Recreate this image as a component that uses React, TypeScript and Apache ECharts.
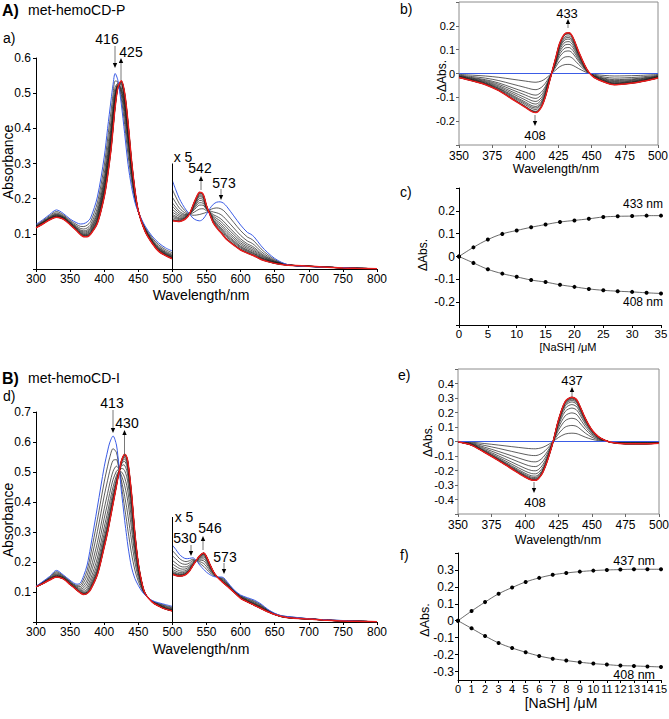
import React, { useEffect, useRef } from 'react';
import * as echarts from 'echarts';

// ---------- Panel a (met-hemoCD-P), Soret region 300-500 nm ----------
const aWlSoret = [300, 310, 320, 330, 340, 350, 360, 365, 370, 375, 380, 390, 400, 405, 410, 413, 416, 420, 425, 430, 435, 440, 445, 450, 460, 470, 480, 490, 500];
const aBlueSoret = [0.127, 0.14, 0.155, 0.168, 0.158, 0.142, 0.131, 0.128, 0.129, 0.134, 0.145, 0.205, 0.318, 0.4, 0.48, 0.525, 0.556, 0.537, 0.47, 0.385, 0.297, 0.235, 0.19, 0.162, 0.122, 0.094, 0.074, 0.06, 0.051];
const aRedSoret = [0.117, 0.128, 0.14, 0.147, 0.142, 0.126, 0.108, 0.098, 0.092, 0.092, 0.099, 0.13, 0.205, 0.265, 0.34, 0.4, 0.46, 0.515, 0.535, 0.5, 0.415, 0.31, 0.225, 0.165, 0.107, 0.074, 0.05, 0.038, 0.029];
// Q-band region 500-800 nm (displayed x 5)
const aWlQ = [500, 505, 510, 515, 520, 525, 530, 535, 540, 545, 550, 555, 560, 565, 570, 575, 580, 590, 600, 610, 615, 620, 630, 640, 650, 660, 670, 680, 700, 720, 750, 770, 800];
const aBlueQ = [0.251, 0.225, 0.201, 0.183, 0.168, 0.157, 0.145, 0.139, 0.137, 0.142, 0.156, 0.172, 0.184, 0.19, 0.191, 0.187, 0.177, 0.151, 0.125, 0.104, 0.099, 0.091, 0.066, 0.046, 0.03, 0.019, 0.012, 0.009, 0.007, 0.005, 0.004, 0.002, 0.001];
const aRedQ = [0.137, 0.136, 0.135, 0.138, 0.144, 0.156, 0.18, 0.203, 0.218, 0.213, 0.18, 0.155, 0.131, 0.117, 0.106, 0.094, 0.083, 0.068, 0.054, 0.045, 0.041, 0.037, 0.027, 0.021, 0.016, 0.013, 0.011, 0.01, 0.008, 0.006, 0.003, 0.002, 0.001];

// ---------- Panel b: difference spectrum (final - initial) ----------
const bWl = [350, 360, 370, 380, 390, 400, 405, 408, 412, 415, 418, 420, 423, 426, 430, 433, 436, 440, 445, 448, 452, 460, 467, 475, 485, 500];
const bRedDiff = [-0.017, -0.031, -0.047, -0.072, -0.107, -0.142, -0.16, -0.164, -0.142, -0.1, -0.037, 0.004, 0.067, 0.129, 0.168, 0.171, 0.15, 0.094, 0.032, 0.004, -0.017, -0.037, -0.047, -0.044, -0.037, -0.019];

// ---------- Panel c: titration ----------
const cConc = [0, 2.5, 5, 7.5, 10, 12.5, 15, 17.5, 20, 22.5, 25, 27.5, 30, 32.5, 35];
const c433 = [0, 0.04, 0.074, 0.099, 0.114, 0.128, 0.14, 0.151, 0.158, 0.165, 0.173, 0.176, 0.177, 0.179, 0.179];
const c408 = [0, -0.028, -0.056, -0.075, -0.089, -0.103, -0.112, -0.124, -0.133, -0.142, -0.148, -0.152, -0.155, -0.159, -0.162];

// ---------- Panel d (met-hemoCD-I) ----------
const dWlSoret = [300, 310, 320, 330, 340, 350, 360, 365, 370, 375, 380, 390, 400, 405, 408, 413, 418, 420, 422, 425, 428, 430, 433, 435, 440, 445, 450, 455, 460, 470, 480, 490, 500];
const dBlueSoret = [0.119, 0.135, 0.152, 0.172, 0.157, 0.139, 0.126, 0.13, 0.155, 0.19, 0.25, 0.383, 0.517, 0.57, 0.597, 0.62, 0.59, 0.555, 0.515, 0.44, 0.38, 0.339, 0.285, 0.25, 0.183, 0.145, 0.122, 0.103, 0.09, 0.072, 0.064, 0.058, 0.052];
const dRedSoret = [0.117, 0.128, 0.14, 0.15, 0.144, 0.125, 0.106, 0.097, 0.092, 0.095, 0.108, 0.158, 0.25, 0.3, 0.335, 0.395, 0.455, 0.48, 0.5, 0.535, 0.553, 0.559, 0.55, 0.53, 0.43, 0.295, 0.195, 0.133, 0.095, 0.067, 0.053, 0.043, 0.037];
const dWlQ = [500, 505, 510, 515, 520, 525, 530, 535, 540, 546, 550, 555, 560, 565, 570, 575, 580, 590, 600, 610, 620, 630, 640, 650, 660, 675, 700, 720, 750, 780, 800];
const dBlueQ = [0.256, 0.242, 0.226, 0.216, 0.211, 0.212, 0.214, 0.205, 0.19, 0.175, 0.166, 0.158, 0.152, 0.15, 0.15, 0.148, 0.135, 0.108, 0.09, 0.081, 0.073, 0.06, 0.042, 0.029, 0.021, 0.017, 0.011, 0.008, 0.005, 0.002, 0.001];
const dRedQ = [0.159, 0.155, 0.153, 0.154, 0.159, 0.17, 0.188, 0.205, 0.221, 0.23, 0.218, 0.192, 0.168, 0.152, 0.14, 0.13, 0.12, 0.1, 0.079, 0.067, 0.056, 0.045, 0.034, 0.025, 0.018, 0.013, 0.01, 0.007, 0.003, 0.002, 0.001];

// ---------- Panel e: difference spectrum ----------
const eWl = [350, 360, 370, 380, 390, 400, 405, 408, 412, 415, 418, 421, 425, 430, 435, 438, 440, 445, 450, 455, 460, 465, 475, 490, 500];
const eRedDiff = [-0.002, -0.025, -0.076, -0.13, -0.188, -0.245, -0.266, -0.268, -0.234, -0.176, -0.095, 0, 0.148, 0.275, 0.306, 0.294, 0.264, 0.16, 0.079, 0.032, 0.007, -0.007, -0.016, -0.016, -0.012];

// ---------- Panel f: titration ----------
const fConc = [0, 1, 2, 3, 4, 5, 6, 7, 8, 9, 10, 11, 12, 13, 14, 15];
const f437 = [0, 0.057, 0.11, 0.159, 0.196, 0.229, 0.253, 0.271, 0.282, 0.29, 0.296, 0.3, 0.302, 0.304, 0.304, 0.304];
const f408 = [0, -0.045, -0.09, -0.131, -0.161, -0.186, -0.208, -0.224, -0.235, -0.245, -0.253, -0.259, -0.265, -0.267, -0.27, -0.273];

const FONT = '"Liberation Sans", Arial, Helvetica, sans-serif';
const BLUE = '#3b5ce6';
const RED = '#ea1c1c';
const BLACK = '#1a1a1a';

// fraction converted at each titration step, taken from the titration data
const fracP = c433.map((v) => v / c433[c433.length - 1]);
const fracI = f437.map((v) => v / f437[f437.length - 1]);

const zip = (xs: number[], ys: number[]) => xs.map((x, i) => [x, ys[i]]);
const mix = (xs: number[], b: number[], r: number[], f: number) => xs.map((x, i) => [x, b[i] + f * (r[i] - b[i])]);

function line(g: number, data: number[][], color: string, width: number, z: number, extra: any = {}) {
  return {
    type: 'line', xAxisIndex: g, yAxisIndex: g, data, showSymbol: false, symbol: 'none',
    smooth: 0.3, lineStyle: { color, width }, silent: true, z, animation: false, ...extra,
  };
}

function spectra(g: number, wl: number[], blue: number[], red: number[], fr: number[], extraRed: any = {}) {
  const out: any[] = fr.slice(1, -1).map((f) => line(g, mix(wl, blue, red, f), BLACK, 0.7, 2));
  out.push(line(g, zip(wl, blue), BLUE, 1, 3));
  out.push(line(g, zip(wl, red), RED, 1.5, 4, extraRed));
  return out;
}

function diffs(g: number, wl: number[], red: number[], fr: number[]) {
  const out: any[] = fr.slice(1, -1).map((f) => line(g, wl.map((x, i) => [x, f * red[i]]), BLACK, 0.7, 2));
  out.push(line(g, [[wl[0], 0], [wl[wl.length - 1], 0]], BLUE, 1.2, 3, { smooth: false }));
  out.push(line(g, zip(wl, red), RED, 1.5, 4));
  return out;
}

function titration(g: number, conc: number[], vals: number[]) {
  return line(g, zip(conc, vals), '#444', 0.8, 3, {
    showSymbol: true, symbol: 'circle', symbolSize: 4, itemStyle: { color: '#000' }, smooth: 0.4,
  });
}

const yfmt = (lim: number, hideZero = false) => (v: number) => {
  if (Math.abs(v) > lim + 1e-9) return '';
  if (Math.abs(v) < 1e-9) return hideZero ? '' : '0';
  return v.toFixed(1);
};

function axis(g: number, o: any) {
  const { min, max, interval, fontSize = 12, margin = 4, color = '#000', showLine = true, formatter, custom } = o;
  const a: any = {
    type: 'value', gridIndex: g, min, max,
    axisLine: { show: showLine, onZero: false, lineStyle: { color: '#000', width: 1 } },
    axisTick: { show: true, inside: false, length: 3, lineStyle: { color, width: 1 } },
    axisLabel: { fontSize, color: '#000', fontFamily: FONT, margin, formatter, showMinLabel: true, showMaxLabel: true },
    splitLine: { show: false },
  };
  if (interval !== undefined) a.interval = interval;
  if (custom) {
    a.axisLabel.customValues = custom;
    a.axisTick.customValues = custom;
  }
  return a;
}

function txt(text: string, x: number, y: number, size: number, align = 'center', extra: any = {}) {
  return {
    type: 'text', x, y, silent: true, z: 100,
    style: { text, fontSize: size, fontFamily: FONT, fill: '#000', textAlign: align, textVerticalAlign: 'middle', ...extra },
  };
}
function vtxt(text: string, x: number, y: number, size: number) {
  return {
    type: 'text', x, y, rotation: Math.PI / 2, silent: true, z: 100,
    style: { text, fontSize: size, fontFamily: FONT, fill: '#000', textAlign: 'center', textVerticalAlign: 'middle' },
  };
}
function arrow(x: number, y1: number, y2: number) {
  const dir = y2 > y1 ? 1 : -1;
  const hl = 5, hw = 2.2;
  return [
    { type: 'line', silent: true, z: 100, shape: { x1: x, y1, x2: x, y2: y2 - dir * hl }, style: { stroke: '#555', lineWidth: 0.8 } },
    { type: 'polygon', silent: true, z: 100, shape: { points: [[x - hw, y2 - dir * hl], [x + hw, y2 - dir * hl], [x, y2]] }, style: { fill: '#000' } },
  ];
}

function buildOption() {
  const grids = [
    { left: 36, top: 58, width: 341, height: 211 },
    { left: 459, top: 2, width: 199, height: 143, show: true, borderColor: '#8c8c8c', borderWidth: 1, backgroundColor: 'transparent' },
    { left: 459, top: 188, width: 202, height: 137 },
    { left: 36, top: 412, width: 341, height: 210 },
    { left: 458, top: 369, width: 201, height: 145, show: true, borderColor: '#8c8c8c', borderWidth: 1, backgroundColor: 'transparent' },
    { left: 458, top: 553, width: 203, height: 127 },
  ].map((g) => ({ ...g, containLabel: false, outerBoundsMode: 'none' }));

  const xAxis = [
    axis(0, { min: 300, max: 800, interval: 50, fontSize: 12, margin: 4 }),
    axis(1, { min: 350, max: 500, interval: 25, fontSize: 12, margin: 5, showLine: false, color: '#666' }),
    axis(2, { min: 0, max: 35, interval: 5, fontSize: 11.5, margin: 3 }),
    axis(3, { min: 300, max: 800, interval: 50, fontSize: 12, margin: 4 }),
    axis(4, { min: 350, max: 500, interval: 25, fontSize: 12, margin: 5, showLine: false, color: '#666' }),
    axis(5, { min: 0, max: 15, interval: 1, fontSize: 11, margin: 3 }),
  ];
  const yAxis = [
    axis(0, { min: 0, max: 0.6, interval: 0.1, fontSize: 12, margin: 5, formatter: yfmt(0.6, true) }),
    axis(1, { min: -0.3, max: 0.3, interval: 0.1, fontSize: 11, margin: 4, showLine: false, color: '#666', formatter: yfmt(0.2) }),
    axis(2, { min: -0.3, max: 0.3, interval: 0.1, fontSize: 12, margin: 4, formatter: yfmt(0.2) }),
    axis(3, { min: 0, max: 0.7, interval: 0.1, fontSize: 12, margin: 5, formatter: yfmt(0.7, true) }),
    axis(4, { min: -0.5, max: 0.5, interval: 0.1, fontSize: 11.5, margin: 4, showLine: false, color: '#666', formatter: yfmt(0.4) }),
    axis(5, { min: -0.35, max: 0.4, fontSize: 12, margin: 4, formatter: yfmt(0.3), custom: [-0.3, -0.2, -0.1, 0, 0.1, 0.2, 0.3, 0.4] }),
  ];

  const x5Axis = (top: number) => ({
    markLine: {
      silent: true, symbol: ['none', 'none'], animation: false, label: { show: false },
      lineStyle: { color: '#000', width: 1, type: 'solid' },
      data: [[{ coord: [500, 0] }, { coord: [500, top] }]],
    },
  });

  const series: any[] = [
    ...spectra(0, aWlSoret, aBlueSoret, aRedSoret, fracP),
    ...spectra(0, aWlQ, aBlueQ, aRedQ, fracP, x5Axis(0.3)),
    ...diffs(1, bWl, bRedDiff, fracP),
    titration(2, cConc, c433),
    titration(2, cConc, c408),
    ...spectra(3, dWlSoret, dBlueSoret, dRedSoret, fracI),
    ...spectra(3, dWlQ, dBlueQ, dRedQ, fracI, x5Axis(0.35)),
    ...diffs(4, eWl, eRedDiff, fracI),
    titration(5, fConc, f437),
    titration(5, fConc, f408),
  ];

  const graphic: any[] = [
    // titles and panel letters
    txt('A)', 2, 10, 16, 'left', { fontWeight: 'bold' }),
    txt('met-hemoCD-P', 28, 10, 14, 'left'),
    txt('a)', 3, 38, 14, 'left'),
    txt('b)', 400, 9, 14, 'left'),
    txt('c)', 400, 192, 14, 'left'),
    txt('B)', 2, 378, 16, 'left', { fontWeight: 'bold' }),
    txt('met-hemoCD-I', 28, 378, 14, 'left'),
    txt('d)', 3, 396, 14, 'left'),
    txt('e)', 398, 375, 14, 'left'),
    txt('f)', 400, 555, 14, 'left'),
    // axis names
    vtxt('Absorbance', 8, 162, 14),
    txt('Wavelength/nm', 201, 295, 14),
    vtxt('Absorbance', 8, 520, 14),
    txt('Wavelength/nm', 201, 649, 14),
    txt('Wavelength/nm', 556, 169, 12.5),
    vtxt('ΔAbs.', 442, 76, 12),
    vtxt('ΔAbs.', 423, 255, 12),
    txt('[NaSH] /μM', 568, 347, 11),
    txt('Wavelength/nm', 558, 540, 12.5),
    vtxt('ΔAbs.', 428, 441, 12),
    vtxt('ΔAbs.', 425, 620, 12.5),
    txt('[NaSH] /μM', 561, 703, 14),
    // panel a annotations
    txt('416', 107, 39, 14),
    ...arrow(115, 46, 68),
    txt('425', 131, 52, 14),
    ...arrow(121, 80, 58),
    txt('x 5', 183, 157, 14),
    txt('542', 200, 168, 14),
    ...arrow(201, 190, 176),
    txt('573', 224, 183, 14),
    ...arrow(221, 189, 200),
    // panel b
    txt('433', 567, 13, 13),
    ...arrow(568, 28, 19),
    txt('408', 535, 135, 13),
    ...arrow(535, 115, 126),
    // panel c
    txt('433 nm', 663, 204, 12, 'right'),
    txt('408 nm', 663, 302, 12, 'right'),
    // panel d
    txt('413', 112, 403, 14),
    ...arrow(113, 410, 433),
    txt('430', 127, 423, 14),
    ...arrow(124.5, 455, 430),
    txt('x 5', 184, 517, 14),
    txt('530', 185, 538, 14),
    ...arrow(191, 545, 556),
    txt('546', 210, 528, 14),
    ...arrow(203, 550, 536),
    txt('573', 225, 557, 14),
    ...arrow(224, 563, 574),
    // panel e
    txt('437', 572, 380, 13),
    ...arrow(572, 396, 387),
    txt('408', 535, 502, 13),
    ...arrow(534, 482, 493),
    // panel f
    txt('437 nm', 655, 561, 12.5, 'right'),
    txt('408 nm', 655, 675, 12.5, 'right'),
  ];

  return {
    animation: false,
    backgroundColor: '#fff',
    textStyle: { fontFamily: FONT },
    grid: grids,
    xAxis,
    yAxis,
    series,
    graphic,
  };
}

export default function App() {
  const ref = useRef<HTMLDivElement>(null);
  useEffect(() => {
    const chart = echarts.init(ref.current as HTMLDivElement, null, { renderer: 'svg' });
    chart.setOption(buildOption() as any);
    return () => chart.dispose();
  }, []);
  return (
    <div
      ref={ref}
      style={{ position: 'absolute', left: 0, top: 0, width: 669, height: 719, background: '#fff' }}
    />
  );
}
